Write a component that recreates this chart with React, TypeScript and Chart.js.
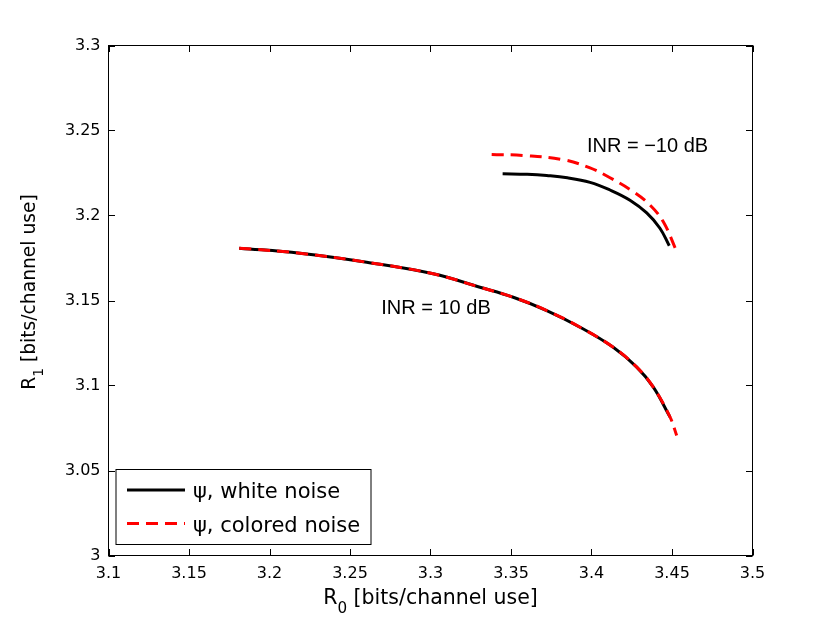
import React, { useRef, useEffect } from "react"
import { Chart, registerables } from "chart.js"

Chart.register(...registerables)

const WIDE = '"DejaVu Sans", Verdana, sans-serif'
const FONT = '"Liberation Sans", Arial, Helvetica, sans-serif'

const xTickValues = [3.1, 3.15, 3.2, 3.25, 3.3, 3.35, 3.4, 3.45, 3.5]
const xTickLabels = ["3.1", "3.15", "3.2", "3.25", "3.3", "3.35", "3.4", "3.45", "3.5"]
const yTickValues = [3, 3.05, 3.1, 3.15, 3.2, 3.25, 3.3]
const yTickLabels = ["3", "3.05", "3.1", "3.15", "3.2", "3.25", "3.3"]

// INR = 10 dB
const white10X = [3.1812, 3.2189, 3.2604, 3.3017, 3.3307, 3.3514, 3.3722, 3.3929, 3.4135, 3.4281, 3.4384, 3.4488]
const white10Y = [3.1808, 3.1778, 3.1725, 3.1657, 3.1578, 3.1519, 3.1441, 3.1343, 3.1225, 3.1108, 3.099, 3.0814]
const colored10X = [3.1812, 3.2189, 3.2604, 3.3017, 3.3307, 3.3514, 3.3722, 3.3929, 3.4135, 3.4281, 3.4384, 3.4488, 3.4529]
const colored10Y = [3.1808, 3.1778, 3.1725, 3.1657, 3.1578, 3.1519, 3.1441, 3.1343, 3.1225, 3.1108, 3.099, 3.0814, 3.0706]

// INR = -10 dB
const whiteM10X = [3.3448, 3.36, 3.3722, 3.385, 3.3991, 3.4115, 3.4239, 3.4343, 3.4425, 3.4483]
const whiteM10Y = [3.2245, 3.2242, 3.2235, 3.2222, 3.2195, 3.215, 3.209, 3.2015, 3.1925, 3.1822]
const coloredM10X = [3.338, 3.3576, 3.3825, 3.3991, 3.4115, 3.426, 3.4363, 3.4446, 3.4525]
const coloredM10Y = [3.2359, 3.2353, 3.2328, 3.228, 3.2222, 3.214, 3.2062, 3.1963, 3.1798]

const seriesLabels = ["\u03c8, white noise", "\u03c8, colored noise"]
const annotations = [
  { text: "INR = 10 dB", x: 3.3034, y: 3.1422 },
  { text: "INR = \u221210 dB", x: 3.4348, y: 3.2372 },
]

const RED_DASH = [12, 7]

const toPoints = (xs: number[], ys: number[]) => xs.map((x, i) => ({ x, y: ys[i] }))

// "R" with a subscript, then the unit, centred on cx along the current baseline
const drawRTitle = (ctx: CanvasRenderingContext2D, cx: number, sub: string, size: number) => {
  const rest = " [bits/channel use]"
  const subSize = size * 0.74
  ctx.font = `${size}px ${WIDE}`
  const wR = ctx.measureText("R").width
  const wRest = ctx.measureText(rest).width
  ctx.font = `${subSize}px ${WIDE}`
  const wSub = ctx.measureText(sub).width
  let x = cx - (wR + wSub + wRest) / 2
  ctx.textAlign = "left"
  ctx.textBaseline = "alphabetic"
  ctx.font = `${size}px ${WIDE}`
  ctx.fillText("R", x, 0)
  x += wR
  ctx.font = `${subSize}px ${WIDE}`
  ctx.fillText(sub, x, size * 0.45)
  x += wSub
  ctx.font = `${size}px ${WIDE}`
  ctx.fillText(rest, x, 0)
}

const matlabAxes = {
  id: "matlabAxes",
  afterDraw(chart: any) {
    const ctx: CanvasRenderingContext2D = chart.ctx
    const { left, right, top, bottom } = chart.chartArea
    const xs = chart.scales.x
    const ys = chart.scales.y
    ctx.save()
    ctx.setLineDash([])
    ctx.strokeStyle = "#000"
    ctx.lineWidth = 1
    ctx.strokeRect(left, top, right - left, bottom - top)
    const tl = 6.5
    ctx.beginPath()
    xTickValues.forEach((v) => {
      const px = Math.round(xs.getPixelForValue(v)) + 0.5
      ctx.moveTo(px, bottom)
      ctx.lineTo(px, bottom - tl)
      ctx.moveTo(px, top)
      ctx.lineTo(px, top + tl)
    })
    yTickValues.forEach((v) => {
      const py = Math.round(ys.getPixelForValue(v)) + 0.5
      ctx.moveTo(left, py)
      ctx.lineTo(left + tl, py)
      ctx.moveTo(right, py)
      ctx.lineTo(right - tl, py)
    })
    ctx.stroke()

    // tick labels, placed by the scales
    ctx.fillStyle = "#000"
    ctx.font = `16px ${WIDE}`
    ctx.textAlign = "center"
    ctx.textBaseline = "middle"
    xTickValues.forEach((v, i) => {
      ctx.fillText(xTickLabels[i], xs.getPixelForValue(v), bottom + 18)
    })
    ctx.textAlign = "right"
    yTickValues.forEach((v, i) => {
      ctx.fillText(yTickLabels[i], left - 8, ys.getPixelForValue(v))
    })

    // annotations
    ctx.font = `20px ${FONT}`
    ctx.textAlign = "center"
    ctx.textBaseline = "alphabetic"
    annotations.forEach((a) => {
      ctx.fillText(a.text, xs.getPixelForValue(a.x), ys.getPixelForValue(a.y))
    })

    // axis titles
    ctx.save()
    ctx.translate(0, 604)
    drawRTitle(ctx, (left + right) / 2, "0", 20.5)
    ctx.restore()
    ctx.save()
    ctx.translate(35, 292)
    ctx.rotate(-Math.PI / 2)
    drawRTitle(ctx, 0, "1", 18.7)
    ctx.restore()

    // legend
    const bx = 116
    const by = 469.5
    const bw = 255
    const bh = 75
    ctx.fillStyle = "#fff"
    ctx.fillRect(bx, by, bw, bh)
    ctx.strokeStyle = "#000"
    ctx.lineWidth = 1
    ctx.strokeRect(bx, by, bw, bh)
    const rows = [
      { y: 490, color: "#000", dash: [] as number[] },
      { y: 523.5, color: "#ff0000", dash: RED_DASH },
    ]
    rows.forEach((r, i) => {
      ctx.beginPath()
      ctx.setLineDash(r.dash)
      ctx.strokeStyle = r.color
      ctx.lineWidth = 3
      ctx.lineCap = "butt"
      ctx.moveTo(127, r.y)
      ctx.lineTo(185, r.y)
      ctx.stroke()
      ctx.setLineDash([])
      ctx.fillStyle = "#000"
      ctx.font = `21px ${WIDE}`
      ctx.textAlign = "left"
      ctx.fillText(seriesLabels[i], 193, r.y + 8)
    })
    ctx.restore()
  },
}

const lineStyle = (color: string, dash: number[]) => ({
  showLine: true,
  borderColor: color,
  backgroundColor: color,
  borderWidth: 3,
  borderDash: dash,
  borderCapStyle: "butt" as const,
  borderJoinStyle: "round" as const,
  pointRadius: 0,
  pointHoverRadius: 0,
  tension: 0.4,
  fill: false,
})

const App: React.FC = () => {
  const chartRef = useRef<HTMLCanvasElement>(null)

  useEffect(() => {
    if (!chartRef.current) return
    const chart = new Chart(chartRef.current.getContext("2d")!, {
      type: "scatter",
      data: {
        // dataset 0 is drawn on top, so the dashed red lines come first
        datasets: [
          { label: seriesLabels[1], data: toPoints(colored10X, colored10Y), ...lineStyle("#ff0000", RED_DASH) },
          { label: seriesLabels[1], data: toPoints(coloredM10X, coloredM10Y), ...lineStyle("#ff0000", RED_DASH) },
          { label: seriesLabels[0], data: toPoints(white10X, white10Y), ...lineStyle("#000000", []) },
          { label: seriesLabels[0], data: toPoints(whiteM10X, whiteM10Y), ...lineStyle("#000000", []) },
        ],
      },
      options: {
        animation: false,
        responsive: false,
        events: [],
        layout: { padding: { top: 45.5, right: 77.5, left: 0, bottom: 0 } },
        plugins: { legend: { display: false }, tooltip: { enabled: false } },
        scales: {
          x: {
            type: "linear",
            min: 3.1,
            max: 3.5,
            afterBuildTicks: (scale: any) => {
              scale.ticks = xTickValues.map((v) => ({ value: v }))
            },
            afterFit: (scale: any) => {
              scale.height = 68.5
            },
            grid: { display: false, drawTicks: false },
            border: { display: false },
            ticks: { display: false },
          },
          y: {
            type: "linear",
            min: 3,
            max: 3.3,
            afterBuildTicks: (scale: any) => {
              scale.ticks = yTickValues.map((v) => ({ value: v }))
            },
            afterFit: (scale: any) => {
              scale.width = 108.5
            },
            grid: { display: false, drawTicks: false },
            border: { display: false },
            ticks: { display: false },
          },
        },
      },
      plugins: [matlabAxes],
    })
    return () => {
      chart.destroy()
    }
  }, [])

  return (
    <div style={{ position: "absolute", left: 0, top: 0, width: 830, height: 624, background: "#fff" }}>
      <canvas ref={chartRef} width={830} height={624} />
    </div>
  )
}

export default App
